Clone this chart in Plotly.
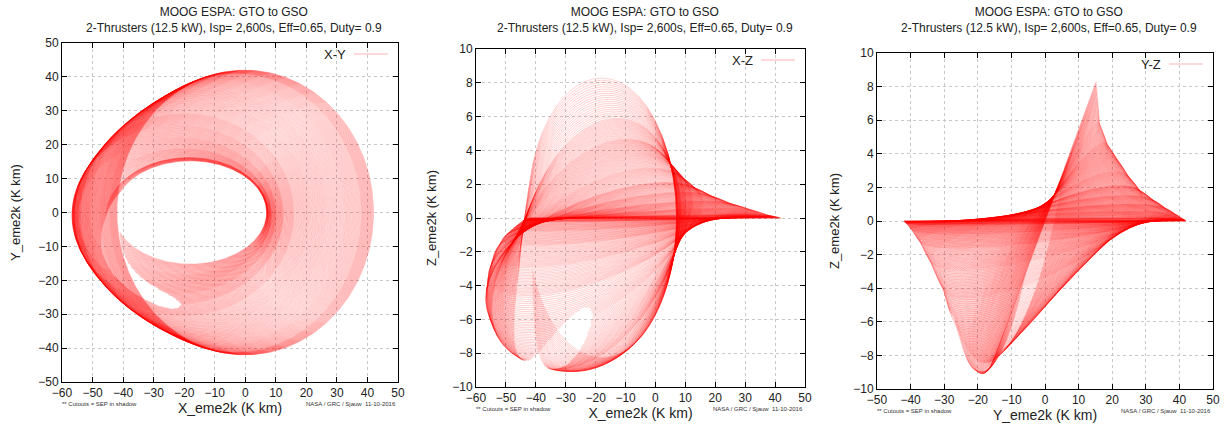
import numpy as np
import plotly.graph_objects as go

# ---- data: orbital element keyframes over the transfer ----
phase_frac   = [0.00, 0.10, 0.20, 0.30, 0.40, 0.50, 0.60, 0.70, 0.80, 0.90, 1.00]
perigee_kkm  = [7.0, 7.6, 8.6, 10.2, 12.5, 16.0, 21.0, 26.5, 32.5, 38.0, 42.0]
apogee_kkm   = [43.0, 46.0, 51.0, 55.0, 57.0, 56.0, 54.0, 51.0, 47.5, 44.5, 42.0]
incl_deg     = [28.5, 23.0, 18.0, 14.0, 9.7, 6.0, 3.6, 2.0, 1.0, 0.3, 0.0]
raan_deg     = [0.0, -8.0, -15.0, -22.0, -29.0, -35.0, -40.0, -44.0, -48.0, -50.0, -51.0]
argp_deg     = [0.0, 12.0, 19.0, 25.0, 31.0, 37.0, 42.0, 46.0, 50.0, 52.0, 53.0]
sun_phase    = [0.0, 1.0]
sun_lon_deg  = [0.0, 115.0]
earth_radius_kkm = 6.378
n_revs = 200

panel_titles = ["MOOG ESPA: GTO to GSO<br>2-Thrusters (12.5 kW), Isp= 2,600s, Eff=0.65, Duty= 0.9"] * 3
legend_names = ["X-Y", "X-Z", "Y-Z"]
x_titles = ["X_eme2k (K km)", "X_eme2k (K km)", "Y_eme2k (K km)"]
y_titles = ["Y_eme2k (K km)", "Z_eme2k (K km)", "Z_eme2k (K km)"]
x_ranges = [[-60, 50], [-60, 50], [-50, 50]]
y_ranges = [[-50, 50], [-10, 10], [-10, 10]]
y_dticks = [10, 2, 2]
footnote_left = "** Cutouts = SEP in shadow"
footnote_right = "NASA / GRC / Sjauw  11-10-2016"

W, H = 1228, 426
px_x = [(62, 398), (476, 805), (877, 1213)]
px_y = [(43, 382), (49, 387), (53, 389)]
ytitle_standoff = [14, 12, 10]

fig = go.Figure()

E = np.linspace(0, 2 * np.pi, 361)
s_all = np.linspace(0, 1, n_revs)
eps = np.radians(23.44)
orbits = []
for s in s_all:
    rp = np.interp(s, phase_frac, perigee_kkm)
    ra = np.interp(s, phase_frac, apogee_kkm)
    inc = np.radians(np.interp(s, phase_frac, incl_deg))
    Om = np.radians(np.interp(s, phase_frac, raan_deg))
    w = np.radians(np.interp(s, phase_frac, argp_deg))
    a = (rp + ra) / 2
    e = (ra - rp) / (ra + rp)
    b = a * np.sqrt(1 - e * e)
    xp = a * (np.cos(E) - e)
    yp = b * np.sin(E)
    cO, sO, cw, sw, ci, si = np.cos(Om), np.sin(Om), np.cos(w), np.sin(w), np.cos(inc), np.sin(inc)
    x = (cO * cw - sO * sw * ci) * xp + (-cO * sw - sO * cw * ci) * yp
    y = (sO * cw + cO * sw * ci) * xp + (-sO * sw + cO * cw * ci) * yp
    z = (sw * si) * xp + (cw * si) * yp
    # shadow cut-outs (thruster off in Earth's shadow)
    lam = np.radians(np.interp(s, sun_phase, sun_lon_deg))
    sun = np.array([np.cos(lam), np.sin(lam) * np.cos(eps), np.sin(lam) * np.sin(eps)])
    along = x * sun[0] + y * sun[1] + z * sun[2]
    perp2 = x * x + y * y + z * z - along ** 2
    shadow = (along < 0) & (perp2 < earth_radius_kkm ** 2)
    x = np.where(shadow, np.nan, x)
    y = np.where(shadow, np.nan, y)
    z = np.where(shadow, np.nan, z)
    orbits.append((x, y, z))

line_style = dict(color="rgba(255,0,0,0.3)", width=0.6)
pairs = [(0, 1), (0, 2), (1, 2)]
for k, (i1, i2) in enumerate(pairs):
    xa = "x" if k == 0 else f"x{k+1}"
    ya = "y" if k == 0 else f"y{k+1}"
    for o in orbits:
        fig.add_trace(go.Scatter(x=o[i1], y=o[i2], mode="lines", line=line_style,
                                 xaxis=xa, yaxis=ya, showlegend=False, hoverinfo="skip"))

font_family = "Liberation Sans, Arial, sans-serif"
layout = dict(width=W, height=H, margin=dict(l=0, r=0, t=0, b=0, autoexpand=False),
              paper_bgcolor="white", plot_bgcolor="white",
              font=dict(family=font_family, color="#222", size=12), showlegend=False)
annotations = []
shapes = []
for k in range(3):
    xd = [px_x[k][0] / W, px_x[k][1] / W]
    yd = [1 - px_y[k][1] / H, 1 - px_y[k][0] / H]
    ax_common = dict(showline=True, linecolor="black", linewidth=1, mirror="ticks",
                     ticks="inside", ticklen=5, tickcolor="black", automargin=False,
                     showgrid=True, gridcolor="#c8c8c8", griddash="dot", gridwidth=1,
                     zeroline=False, tickfont=dict(size=12, color="#222"))
    xkey = "xaxis" if k == 0 else f"xaxis{k+1}"
    ykey = "yaxis" if k == 0 else f"yaxis{k+1}"
    layout[xkey] = dict(ax_common, domain=xd, range=x_ranges[k], dtick=10,
                        anchor="y" if k == 0 else f"y{k+1}",
                        title=dict(text=x_titles[k], font=dict(size=14), standoff=2))
    layout[ykey] = dict(ax_common, domain=yd, range=y_ranges[k], dtick=y_dticks[k],
                        anchor="x" if k == 0 else f"x{k+1}",
                        title=dict(text=y_titles[k], font=dict(size=13), standoff=ytitle_standoff[k]))
    cx = (xd[0] + xd[1]) / 2 + 4 / W
    annotations.append(dict(text=panel_titles[k], x=cx, y=1 - 3 / H, xref="paper", yref="paper",
                            xanchor="center", yanchor="top", showarrow=False,
                            font=dict(size=12, color="#222")))
    fy = 1 - (px_y[k][1] + 22) / H
    annotations.append(dict(text=footnote_left, x=xd[0] - 2 / W, y=fy, xref="paper",
                            yref="paper", xanchor="left", yanchor="middle", showarrow=False,
                            font=dict(size=6, color="#333")))
    annotations.append(dict(text=footnote_right, x=xd[1], y=fy, xref="paper",
                            yref="paper", xanchor="right", yanchor="middle", showarrow=False,
                            font=dict(size=6, color="#333")))
    # legend key
    lx1 = xd[1] - 44 / W
    lx2 = xd[1] - 10 / W
    ly = yd[1] - 11 / H
    annotations.append(dict(text=legend_names[k], x=lx1 - 6 / W, y=ly, xref="paper", yref="paper",
                            xanchor="right", yanchor="middle", showarrow=False,
                            font=dict(size=13, color="#222")))
    shapes.append(dict(type="line", x0=lx1, x1=lx2, y0=ly, y1=ly, xref="paper", yref="paper",
                       line=dict(color="rgba(255,0,0,0.3)", width=1)))
layout["annotations"] = annotations
layout["shapes"] = shapes
fig.update_layout(**layout)
fig.write_html("out.html", config={"displayModeBar": False},
               post_script="document.body.style.margin='0px';document.body.style.padding='0px';")
